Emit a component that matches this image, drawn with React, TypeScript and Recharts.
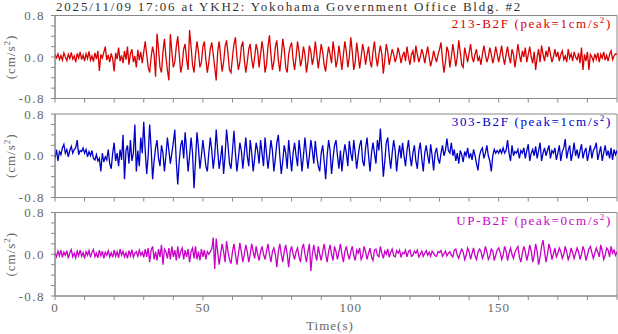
import { LineChart, Line, XAxis, YAxis, ReferenceArea } from "recharts";

// accelerations (cm/s^2), one sample every 0.5 s from 0 to 190 s
const s213 = [
  0.05, -0.02, 0.06, -0.05, 0.03, -0.06, 0.08, 0.0, -0.07, 0.05, -0.03, 0.09, -0.04, 0.02, -0.1, 0.07, -0.02, 0.1, -0.05, 0.04,
  -0.08, 0.06, -0.03, 0.11, -0.06, 0.02, -0.09, 0.08, -0.04, 0.12, -0.27, 0.05, -0.02, 0.09, 0.2, -0.06, 0.04, -0.1, 0.07, -0.03,
  -0.28, 0.08, -0.04, 0.18, -0.08, 0.03, -0.12, 0.12, -0.05, 0.2, -0.15, 0.06, 0.15, -0.1, 0.02, -0.2, 0.14, -0.06, 0.1, -0.12,
  0.1, 0.3, 0.05, -0.2, -0.3, 0.0, 0.2, 0.05, -0.38, 0.45, 0.15, -0.2, -0.3, 0.1, 0.35, 0.0, -0.25, -0.45, 0.44, 0.1,
  -0.2, -0.1, 0.2, 0.4, 0.05, -0.3, -0.15, 0.15, 0.25, -0.05, -0.25, 0.52, 0.2, -0.15, -0.3, 0.05, 0.3, 0.1, -0.2, -0.1,
  0.2, 0.3, -0.05, -0.3, -0.1, 0.15, 0.28, 0.05, -0.2, -0.45, 0.1, 0.3, 0.0, -0.28, -0.1, 0.2, 0.32, 0.05, -0.25, -0.3,
  0.0, 0.25, 0.38, 0.0, -0.25, -0.1, 0.2, 0.3, -0.05, -0.3, -0.1, 0.15, 0.25, -0.05, -0.22, 0.0, 0.25, 0.12, -0.2, 0.05,
  0.3, 0.1, -0.3, -0.15, 0.2, 0.42, 0.05, -0.25, -0.1, 0.2, 0.32, -0.05, -0.28, 0.0, 0.35, 0.15, -0.2, -0.3, 0.05, 0.2,
  0.28, -0.05, -0.25, 0.0, 0.3, 0.1, -0.18, -0.05, 0.2, 0.05, -0.3, -0.1, 0.22, 0.1, -0.15, 0.0, 0.3, 0.05, -0.22, 0.0,
  0.25, 0.1, -0.15, -0.28, 0.0, 0.2, 0.05, -0.12, 0.3, 0.1, -0.2, -0.05, 0.22, 0.0, -0.25, 0.05, 0.3, 0.1, -0.2, 0.0,
  0.38, 0.1, -0.25, -0.1, 0.28, 0.05, -0.22, 0.0, 0.25, 0.1, -0.15, 0.05, 0.2, -0.08, -0.2, 0.1, 0.3, 0.0, -0.18, 0.05,
  0.22, 0.05, -0.32, -0.05, 0.25, 0.1, -0.15, 0.0, 0.15, 0.05, -0.1, 0.0, 0.18, 0.05, -0.12, 0.02, 0.1, -0.08, 0.2, 0.0,
  -0.15, 0.05, 0.12, -0.1, 0.22, 0.05, -0.1, 0.0, 0.15, 0.05, -0.12, 0.05, 0.2, 0.0, -0.18, -0.05, 0.12, 0.0, -0.1, 0.05,
  0.15, 0.28, -0.05, -0.3, -0.1, 0.2, 0.1, -0.2, 0.0, 0.25, 0.05, -0.18, 0.0, 0.32, 0.1, -0.15, -0.2, 0.18, 0.05, -0.1,
  0.08, 0.25, 0.0, -0.1, 0.05, 0.15, -0.08, 0.0, -0.15, 0.05, 0.22, 0.05, -0.1, 0.0, 0.18, 0.05, -0.12, 0.0, 0.2, 0.05,
  -0.1, 0.05, 0.22, 0.0, -0.15, 0.05, 0.2, 0.0, -0.12, 0.15, 0.05, -0.2, 0.0, 0.25, 0.05, -0.1, 0.12, 0.0, 0.18, -0.1,
  0.05, 0.2, 0.0, -0.12, 0.1, -0.25, 0.0, 0.15, -0.1, 0.22, 0.05, -0.08, 0.12, 0.0, 0.2, 0.05, -0.1, 0.0, 0.15, 0.0,
  0.1, -0.08, 0.05, 0.12, -0.05, 0.02, -0.1, 0.15, -0.02, 0.06, -0.08, 0.1, 0.0, -0.05, 0.08, -0.12, 0.18, -0.25, 0.05, -0.08,
  0.1, -0.25, 0.05, 0.0, -0.08, 0.06, -0.04, 0.08, -0.1, 0.05, -0.02, 0.1, -0.06, 0.03, -0.08, 0.05, 0.12, -0.05, 0.02, 0.06,
  0.05,
];

const s303 = [
  -0.05, 0.12, -0.1, 0.08, 0.02, 0.15, 0.22, 0.05, 0.12, -0.02, 0.1, 0.18, 0.05, 0.12, 0.15, 0.3, 0.02, 0.1, 0.08, 0.15,
  0.05, 0.12, -0.02, 0.08, 0.0, 0.1, -0.05, -0.08, 0.02, -0.1, -0.05, -0.3, 0.05, -0.12, -0.02, -0.08, 0.12, -0.15, -0.25, 0.05,
  0.25, -0.1, 0.05, -0.2, 0.12, -0.08, 0.4, -0.45, 0.1, 0.2, -0.15, 0.3, -0.1, 0.05, 0.6, -0.3, 0.1, -0.2, 0.35, 0.05,
  0.65, 0.1, -0.35, 0.0, 0.6, 0.15, -0.45, -0.1, 0.15, 0.3, -0.05, -0.2, 0.2, 0.05, -0.3, 0.0, 0.35, 0.1, -0.15, 0.05,
  0.25, 0.5, -0.1, -0.55, -0.1, 0.2, 0.3, -0.05, 0.45, 0.1, -0.3, 0.0, 0.35, 0.05, -0.62, -0.1, 0.45, 0.15, -0.25, 0.0,
  0.3, 0.05, -0.2, -0.3, 0.05, 0.35, 0.1, -0.25, 0.0, 0.5, 0.1, -0.25, -0.05, 0.2, -0.35, 0.0, 0.5, 0.2, -0.15, -0.25,
  0.1, 0.48, 0.05, -0.3, -0.05, 0.25, 0.1, -0.25, 0.05, 0.35, 0.0, -0.2, 0.3, 0.05, -0.3, -0.05, 0.25, 0.1, -0.15, 0.3,
  0.05, -0.2, 0.35, 0.05, -0.25, 0.0, 0.3, 0.1, -0.3, -0.05, 0.25, 0.4, 0.0, -0.35, -0.1, 0.2, 0.05, -0.25, 0.3, 0.0,
  -0.3, 0.05, 0.25, 0.0, -0.2, 0.3, 0.05, -0.3, 0.0, 0.35, 0.05, -0.25, 0.0, 0.3, 0.1, -0.15, 0.28, 0.0, -0.2, -0.3,
  0.05, 0.2, -0.1, -0.45, 0.0, 0.3, 0.1, -0.35, -0.05, 0.2, 0.3, 0.0, -0.25, 0.1, -0.3, 0.0, 0.22, 0.05, -0.2, 0.28,
  0.05, -0.1, 0.3, 0.05, -0.25, 0.0, 0.2, 0.3, -0.1, -0.2, 0.15, 0.35, 0.0, -0.3, 0.05, 0.25, 0.05, -0.15, 0.3, 0.1,
  0.52, 0.1, -0.4, -0.1, 0.25, 0.35, 0.0, -0.25, 0.05, 0.3, 0.1, -0.3, 0.0, 0.2, -0.05, 0.25, 0.0, -0.2, 0.1, 0.3,
  0.0, -0.2, 0.05, 0.2, -0.1, -0.25, 0.1, 0.25, -0.05, -0.3, 0.05, 0.2, 0.0, -0.15, 0.22, 0.0, -0.28, 0.05, 0.15, -0.05,
  -0.15, 0.05, 0.2, 0.0, 0.1, 0.33, 0.1, 0.05, 0.25, 0.0, 0.12, -0.1, 0.05, -0.15, 0.1, 0.02, -0.12, 0.08, 0.0, 0.15,
  -0.05, 0.05, -0.08, 0.12, 0.0, -0.15, -0.28, 0.0, 0.1, 0.15, -0.05, 0.05, 0.2, 0.0, -0.1, -0.3, 0.0, 0.12, 0.05, 0.1,
  0.05, 0.12, 0.05, 0.15, 0.05, 0.1, 0.3, 0.05, -0.1, 0.2, 0.0, 0.08, 0.05, 0.12, -0.05, 0.1, 0.05, 0.15, -0.05, 0.1,
  0.22, -0.1, 0.05, 0.12, 0.0, 0.18, -0.05, 0.1, 0.25, -0.1, 0.05, 0.15, 0.0, 0.1, 0.2, -0.05, 0.1, 0.05, 0.15, -0.08,
  0.05, 0.2, -0.1, 0.08, 0.15, 0.32, -0.05, 0.1, 0.2, -0.1, 0.05, 0.25, 0.0, 0.12, -0.05, 0.1, 0.22, -0.05, 0.08, 0.15,
  -0.1, 0.05, 0.2, -0.05, 0.1, 0.15, 0.25, -0.08, 0.05, 0.18, -0.1, 0.05, 0.2, 0.0, 0.1, -0.05, 0.15, -0.08, 0.12, 0.02,
  0.1,
];

const sUP = [
  0.02, -0.05, 0.06, -0.03, 0.08, -0.06, 0.04, -0.02, 0.07, -0.08, 0.03, 0.09, -0.05, 0.02, -0.07, 0.06, -0.03, 0.08, -0.04, 0.03,
  -0.08, 0.05, -0.02, 0.07, -0.06, 0.04, 0.09, -0.05, 0.02, -0.07, 0.08, -0.03, 0.06, -0.08, 0.04, -0.02, 0.07, -0.05, 0.03, -0.06,
  0.08, -0.04, 0.05, -0.07, 0.1, -0.02, 0.06, -0.05, 0.03, -0.08, 0.07, -0.03, 0.09, -0.06, 0.02, 0.05, -0.04, 0.08, -0.02, 0.04,
  -0.06, 0.1, -0.05, 0.12, -0.15, 0.08, 0.15, -0.1, 0.05, -0.12, 0.1, -0.05, 0.18, -0.2, 0.1, 0.05, -0.08, 0.12, -0.1, 0.15,
  -0.05, 0.08, -0.12, 0.15, -0.08, 0.05, 0.12, -0.1, 0.08, -0.05, 0.1, -0.15, 0.05, 0.12, -0.08, 0.15, -0.1, 0.05, -0.12, 0.1,
  -0.05, 0.08, -0.1, 0.05, 0.0, 0.05, 0.1, 0.32, -0.28, 0.3, 0.05, -0.2, 0.0, 0.2, 0.05, -0.15, 0.25, 0.05, -0.1, -0.18,
  0.05, 0.2, 0.0, -0.2, 0.0, 0.22, 0.05, -0.15, 0.0, 0.18, 0.05, -0.15, 0.0, 0.2, 0.05, -0.08, 0.15, 0.0, -0.12, 0.05,
  0.15, 0.0, -0.1, 0.05, 0.2, 0.0, -0.15, 0.05, 0.12, 0.0, -0.25, 0.05, 0.2, 0.0, -0.15, 0.05, 0.18, 0.0, -0.25, 0.05,
  0.15, 0.0, -0.1, 0.05, 0.12, -0.05, -0.15, 0.1, 0.2, 0.0, -0.15, 0.05, 0.2, -0.32, 0.0, 0.18, 0.0, -0.12, 0.15, 0.0,
  -0.12, 0.05, 0.2, 0.0, -0.15, 0.05, 0.18, 0.0, -0.12, 0.15, 0.05, -0.1, 0.05, 0.2, 0.0, -0.15, 0.05, 0.15, 0.0, -0.1,
  0.05, 0.15, -0.02, -0.12, 0.08, 0.02, 0.12, -0.1, -0.03, 0.15, 0.05, -0.1, 0.02, 0.12, -0.05, -0.12, 0.08, 0.1, -0.02, -0.05,
  0.15, 0.02, -0.08, 0.06, 0.0, 0.1, -0.06, 0.04, 0.1, -0.03, -0.05, 0.07, 0.02, 0.08, -0.06, 0.03, 0.01, 0.08, -0.05, 0.05,
  0.08, -0.04, -0.02, 0.06, 0.02, 0.08, -0.05, 0.0, 0.06, -0.04, 0.02, 0.07, -0.02, 0.04, -0.04, 0.06, 0.02, -0.03, -0.04, 0.05,
  0.03, 0.07, -0.04, 0.01, 0.06, -0.03, 0.02, 0.05, -0.02, -0.05, 0.08, 0.1, -0.02, -0.08, 0.03, 0.1, 0.04, -0.1, -0.02, 0.12,
  0.05, -0.1, 0.02, 0.12, -0.03, -0.1, 0.04, 0.1, 0.06, -0.08, 0.0, 0.15, 0.05, -0.1, -0.04, 0.1, 0.06, -0.12, -0.02, 0.08,
  0.12, 0.04, -0.1, -0.02, 0.15, 0.06, -0.12, 0.02, 0.12, 0.0, -0.08, 0.04, 0.1, 0.15, -0.05, -0.15, 0.02, 0.15, 0.05, -0.12,
  0.0, 0.18, 0.06, -0.15, -0.02, 0.2, 0.05, -0.2, -0.05, 0.15, 0.27, 0.05, -0.15, 0.0, 0.2, 0.08, -0.1, 0.0, 0.12, -0.05,
  0.02, 0.12, 0.05, -0.08, 0.0, 0.15, 0.04, -0.1, -0.02, 0.12, 0.03, -0.08, 0.02, 0.12, 0.05, -0.1, 0.0, 0.15, 0.06, -0.12,
  -0.02, 0.1, 0.15, 0.03, -0.08, 0.02, 0.12, 0.04, -0.05, 0.18, 0.06, -0.1, -0.02, 0.12, 0.08, -0.05, 0.15, 0.02, 0.08, -0.02,
  0.05,
];

const STEP = 0.5;
const xTicks = [0, 10, 20, 30, 40, 50, 60, 70, 80, 90, 100, 110, 120, 130, 140, 150, 160, 170, 180, 190];
const xLabels = [0, 50, 100, 150];
const yTicks = [-0.8, -0.6, -0.4, -0.2, 0, 0.2, 0.4, 0.6, 0.8];
const yLabels = [-0.8, 0, 0.8];
const title = "2025/11/09 17:06 at YKH2: Yokohama Government Office Bldg. #2";

const W = 618;
const H = 334;
const FONT = "'Liberation Serif', 'Times New Roman', serif";
const AXIS = "#888888";
const TXT = "#666666";

type PanelProps = {
  values: number[];
  color: string;
  name: string;
  peak: number;
  top: number;
  bottom: number;
  showTime?: boolean;
};

const Panel = ({ values, color, name, peak, top, bottom, showTime }: PanelProps) => {
  const data = values.map((v, i) => ({ t: i * STEP, v }));
  const mid = (top + bottom) / 2;
  return (
    <div style={{ position: "absolute", left: 0, top: 0 }}>
      <LineChart width={W} height={H} data={data} margin={{ top, right: 1, left: 0, bottom: H - bottom - 30 }}>
        <XAxis
          dataKey="t"
          type="number"
          domain={[0, 190]}
          ticks={xTicks}
          interval={0}
          allowDataOverflow
          height={30}
          stroke={AXIS}
          tickSize={4}
          tickMargin={3}
          tick={{ fill: TXT, fontSize: 13, fontFamily: FONT, letterSpacing: 1 }}
          tickFormatter={(v: number) => (showTime && xLabels.includes(v) ? String(v) : "")}
          label={
            showTime
              ? {
                  content: () => (
                    <text x={330} y={330} textAnchor="middle" fill={TXT} fontSize={13} fontFamily={FONT} letterSpacing={1}>
                      Time(s)
                    </text>
                  ),
                }
              : undefined
          }
        />
        <YAxis
          type="number"
          domain={[-0.8, 0.8]}
          ticks={yTicks}
          interval={0}
          allowDataOverflow
          width={55}
          stroke={AXIS}
          tickSize={4}
          tickMargin={6}
          tick={{ fill: TXT, fontSize: 13, fontFamily: FONT, letterSpacing: 1.5 }}
          tickFormatter={(v: number) => (yLabels.includes(v) ? v.toFixed(1) : "")}
          label={{
            content: () => (
              <text
                transform={`translate(15, ${mid}) rotate(-90)`}
                textAnchor="middle"
                fill={TXT}
                fontSize={13}
                fontFamily={FONT}
                letterSpacing={1}
              >
                (cm/s<tspan dy={-5} fontSize={9}>2</tspan>
                <tspan dy={5}>)</tspan>
              </text>
            ),
          }}
        />
        <ReferenceArea
          x1={0}
          x2={190}
          y1={-0.8}
          y2={0.8}
          fill="none"
          stroke={AXIS}
          strokeOpacity={1}
          label={(p: any) => {
            const vb = p.viewBox || {};
            return (
              <text
                x={vb.x + vb.width - 5}
                y={vb.y + 12}
                textAnchor="end"
                fill={color}
                fontSize={13}
                fontFamily={FONT}
                letterSpacing={1.65}
              >
                {`${name} (peak=${peak}cm/s`}
                <tspan dy={-5} fontSize={9}>2</tspan>
                <tspan dy={5}>)</tspan>
              </text>
            );
          }}
        />
        <Line
          type="linear"
          dataKey="v"
          stroke={color}
          strokeWidth={1.3}
          dot={false}
          isAnimationActive={false}
        />
      </LineChart>
    </div>
  );
};

export default function App() {
  return (
    <div style={{ position: "absolute", left: 0, top: 0, width: W, height: H, background: "#fff" }}>
      <svg width={W} height={15} style={{ position: "absolute", left: 0, top: 0 }}>
        <text x={56} y={11} fill="#333" fontSize={13} fontFamily={FONT} letterSpacing={1.8}>
          {title}
        </text>
      </svg>
      <Panel values={s213} color="#d80000" name="213-B2F" peak={1} top={15.5} bottom={98.5} />
      <Panel values={s303} color="#0000c8" name="303-B2F" peak={1} top={114} bottom={197.5} />
      <Panel values={sUP} color="#c800c8" name="UP-B2F" peak={0} top={212.5} bottom={296} showTime />
    </div>
  );
}
